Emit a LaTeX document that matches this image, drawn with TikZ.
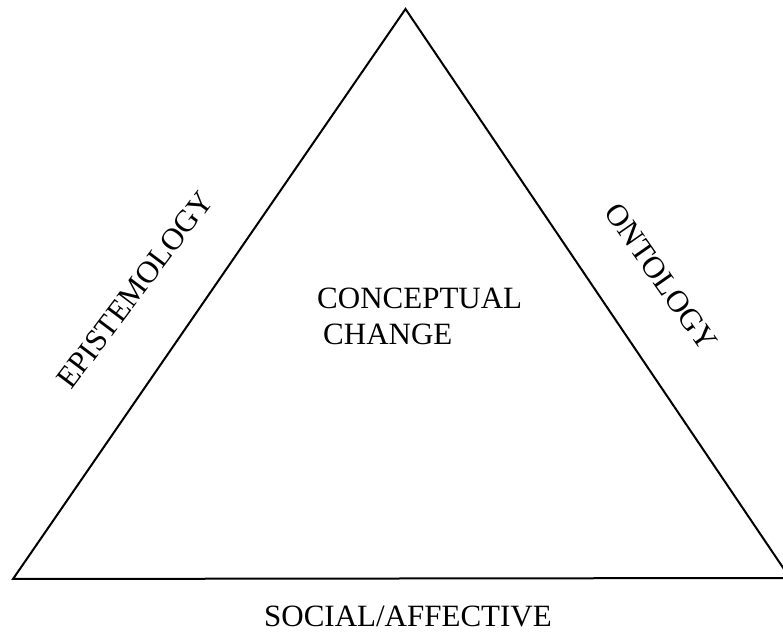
\documentclass[tikz,border=0pt]{standalone}
\usepackage{fontspec}
\setmainfont{Liberation Serif}

\begin{document}
\begin{tikzpicture}[x=1bp,y=1bp,
	lbl/.style={font=\fontsize{31bp}{36bp}\selectfont,inner sep=0pt}]
	\useasboundingbox (0,0) rectangle (783,634);
	\clip (0,0) rectangle (783,634);
	\coordinate (T) at (405.5,625);
	\coordinate (L) at (13,55);
	\coordinate (R) at (790,56);
	%
	\draw[line width=2bp,line join=miter] (T) -- (L) -- (R) -- cycle;
	%
	\node[lbl,rotate=53] (E) at (135,344) {EPISTEMOLOGY};
	\node[lbl,rotate=-55] (O) at (661,357) {ONTOLOGY};
	\node[lbl,anchor=base west] (C) at (317,325) {CONCEPTUAL};
	\node[lbl,anchor=base west] (G) at (323,289) {CHANGE};
	\node[lbl,anchor=base] (S) at (408,7) {SOCIAL/AFFECTIVE};
\end{tikzpicture}
\end{document}
